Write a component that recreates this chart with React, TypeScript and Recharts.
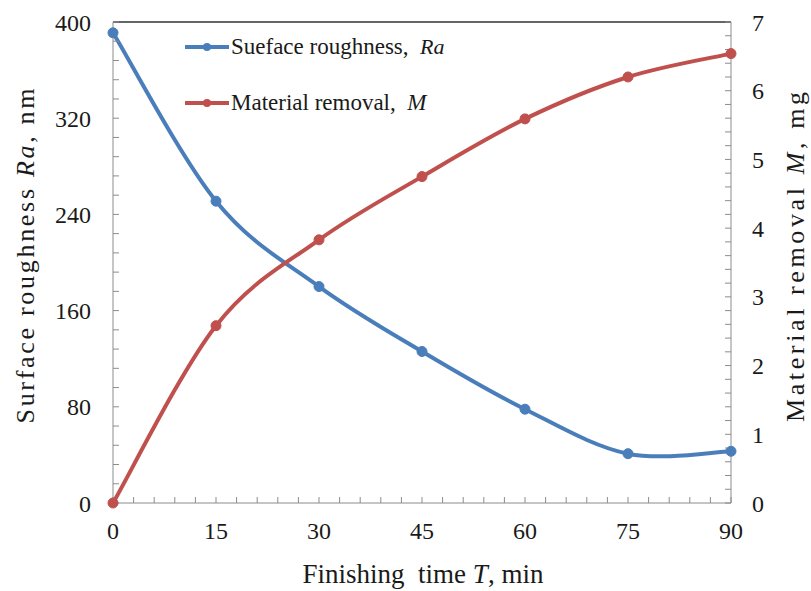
import { LineChart, Line, XAxis, YAxis, ReferenceLine } from 'recharts';

const TIME = [0, 15, 30, 45, 60, 75, 90];
const ROUGHNESS = [391, 251, 180, 126, 78, 41, 43];
const REMOVAL = [0, 2.58, 3.83, 4.75, 5.59, 6.2, 6.54];

const X_LABELS = [0, 15, 30, 45, 60, 75, 90];
const RA_LABELS = [0, 80, 160, 240, 320, 400];
const M_LABELS = [0, 1, 2, 3, 4, 5, 6, 7];

// minor tick steps (inward ticks like the Excel original)
const X_STEP = 3;
const RA_STEP = 16;
const M_STEP = 0.2;

const BLUE = '#4a7ebb';
const RED = '#c0504d';
const AXIS = '#8c8c8c';
const FONT = 'Liberation Serif, DejaVu Serif, serif';

const range = (max: number, step: number) =>
  Array.from({ length: Math.round(max / step) + 1 }, (_, i) => +(i * step).toFixed(2));

const data = TIME.map((t, i) => ({
  t,
  ra: ROUGHNESS[i],
  m: REMOVAL[i],
}));

// Excel-style smoothed line: bezier with control points from neighbours / 6
function excelSmooth(context: any) {
  let pts: number[][] = [];
  return {
    areaStart() {},
    areaEnd() {},
    lineStart() {
      pts = [];
    },
    point(x: number, y: number) {
      pts.push([+x, +y]);
    },
    lineEnd() {
      if (pts.length === 0) return;
      context.moveTo(pts[0][0], pts[0][1]);
      for (let i = 0; i < pts.length - 1; i++) {
        const p0 = pts[i - 1] ?? pts[i];
        const p1 = pts[i];
        const p2 = pts[i + 1];
        const p3 = pts[i + 2] ?? p2;
        context.bezierCurveTo(
          p1[0] + (p2[0] - p0[0]) / 6,
          p1[1] + (p2[1] - p0[1]) / 6,
          p2[0] - (p3[0] - p1[0]) / 6,
          p2[1] - (p3[1] - p1[1]) / 6,
          p2[0],
          p2[1],
        );
      }
    },
  };
}

const tickStyle = { fontFamily: FONT, fontSize: 24, fill: '#1a1a1a' };

function LegendBox() {
  const rows = [
    { color: BLUE, text: 'Sueface roughness,\u00a0 ', it: 'Ra' },
    { color: RED, text: 'Material removal,\u00a0 ', it: 'M' },
  ];
  return (
    <div
      style={{
        position: 'absolute',
        left: 185,
        top: 19,
        fontFamily: FONT,
        fontSize: 23,
        color: '#1a1a1a',
      }}
    >
      {rows.map((r, i) => (
        <div
          key={i}
          style={{
            display: 'flex',
            alignItems: 'center',
            height: 56,
            whiteSpace: 'nowrap',
          }}
        >
          <svg width={44} height={12} style={{ marginRight: 2 }}>
            <line x1={0} y1={6} x2={44} y2={6} stroke={r.color} strokeWidth={4} />
            <circle cx={22} cy={6} r={4} fill={r.color} />
          </svg>
          <span>
            {r.text}
            <i style={{ fontSize: r.it === 'Ra' ? 22 : 23 }}>{r.it}</i>
          </span>
        </div>
      ))}
    </div>
  );
}

function SideLabel({
  cx,
  cy,
  length,
  parts,
}: {
  cx: number;
  cy: number;
  length: number;
  parts: { t: string; it?: boolean }[];
}) {
  return (
    <text
      x={cx}
      y={cy}
      transform={`rotate(-90, ${cx}, ${cy})`}
      textAnchor="middle"
      dominantBaseline="central"
      fontFamily={FONT}
      fontSize={26}
      textLength={length}
      lengthAdjust="spacing"
      fill="#1a1a1a"
    >
      {parts.map((p, i) => (
        <tspan key={i} fontStyle={p.it ? 'italic' : 'normal'}>
          {p.t}
        </tspan>
      ))}
    </text>
  );
}

export default function App() {
  return (
    <div
      style={{
        position: 'absolute',
        left: 0,
        top: 0,
        width: 811,
        height: 591,
        background: '#fff',
      }}
    >
      <LineChart
        width={811}
        height={591}
        data={data}
        margin={{ top: 22, right: 0, bottom: 0, left: 0 }}
      >
        <XAxis
          dataKey="t"
          type="number"
          domain={[0, 90]}
          ticks={range(90, X_STEP)}
          interval={0}
          tickFormatter={(v: number) => (X_LABELS.includes(v) ? String(v) : '')}
          tick={tickStyle}
          tickSize={-6}
          tickMargin={25}
          stroke={AXIS}
          height={88}
          label={{
            content: () => (
              <text
                x={423}
                y={574}
                textAnchor="middle"
                dominantBaseline="central"
                fontFamily={FONT}
                fontSize={27}
                fill="#1a1a1a"
              >
                Finishing{'\u00a0 '}time <tspan fontStyle="italic">T</tspan>, min
              </text>
            ),
          }}
        />
        <YAxis
          yAxisId="left"
          orientation="left"
          domain={[0, 400]}
          ticks={range(400, RA_STEP)}
          interval={0}
          tickFormatter={(v: number) => (RA_LABELS.includes(v) ? String(v) : '')}
          tick={tickStyle}
          tickSize={-6}
          tickMargin={28}
          stroke={AXIS}
          width={113}
          label={{
            content: () => (
              <SideLabel
                cx={25}
                cy={256}
                length={335}
                parts={[
                  { t: 'Surface roughness ' },
                  { t: 'Ra', it: true },
                  { t: ', nm' },
                ]}
              />
            ),
          }}
        />
        <YAxis
          yAxisId="right"
          orientation="right"
          domain={[0, 7]}
          ticks={range(7, M_STEP)}
          interval={0}
          tickFormatter={(v: number) => (M_LABELS.includes(v) ? String(v) : '')}
          tick={tickStyle}
          tickSize={-6}
          tickMargin={27}
          stroke={AXIS}
          width={80}
          label={{
            content: () => (
              <SideLabel
                cx={795}
                cy={257}
                length={330}
                parts={[
                  { t: 'Material removal ' },
                  { t: 'M', it: true },
                  { t: ', mg' },
                ]}
              />
            ),
          }}
        />
        <ReferenceLine yAxisId="left" y={400} stroke="#333" strokeWidth={1.5} />
        <Line
          yAxisId="left"
          dataKey="ra"
          type={excelSmooth as any}
          stroke={BLUE}
          strokeWidth={4}
          dot={{ r: 5, fill: BLUE, stroke: BLUE, strokeWidth: 1 }}
          activeDot={false}
          isAnimationActive={false}
        />
        <Line
          yAxisId="right"
          dataKey="m"
          type={excelSmooth as any}
          stroke={RED}
          strokeWidth={4}
          dot={{ r: 5, fill: RED, stroke: RED, strokeWidth: 1 }}
          activeDot={false}
          isAnimationActive={false}
        />
      </LineChart>
      <LegendBox />
    </div>
  );
}
